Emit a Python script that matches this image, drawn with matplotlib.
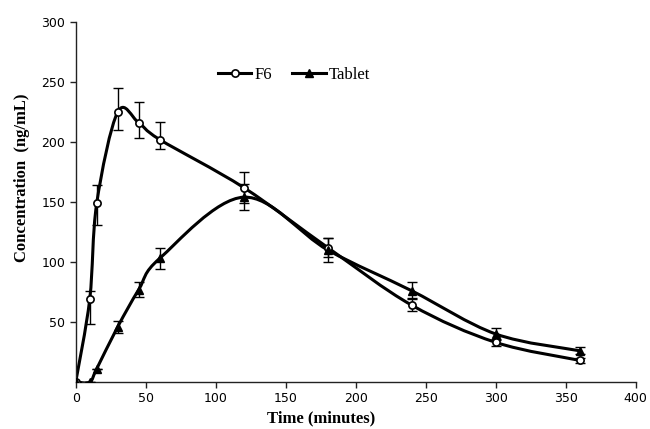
import numpy as np
import matplotlib
matplotlib.use('Agg')
import matplotlib.pyplot as plt
from matplotlib.path import Path
from matplotlib.patches import PathPatch
from matplotlib.lines import Line2D

plt.rcParams.update({
    'font.family': 'DejaVu Sans',
    'xtick.labelsize': 9,
    'ytick.labelsize': 9,
})

time = [0, 10, 15, 30, 45, 60, 120, 180, 240, 300, 360]

f6 = [0, 69, 149, 225, 216, 202, 162, 112, 64, 33, 18]
f6_err_lo = [0, 21, 18, 15, 13, 8, 13, 8, 5, 3, 2]
f6_err_hi = [0, 7, 15, 20, 17, 15, 13, 8, 6, 3, 2]

tablet = [0, 0, 11, 46, 77, 103, 154, 110, 76, 40, 26]
tablet_err = [0, 0, 0, 5, 6, 8.5, 11, 10, 7, 5, 3]


def smooth_path(x, y, k=1.0 / 6):
    # Excel-like smoothed line: Catmull-Rom turned into cubic Bezier segments
    p = np.column_stack([x, y]).astype(float)
    n = len(p)
    verts = [p[0]]
    codes = [Path.MOVETO]
    for i in range(n - 1):
        p_prev = p[i - 1] if i > 0 else p[i]
        p_next = p[i + 2] if i + 2 < n else p[i + 1]
        c1 = p[i] + (p[i + 1] - p_prev) * k
        c2 = p[i + 1] - (p_next - p[i]) * k
        verts += [c1, c2, p[i + 1]]
        codes += [Path.CURVE4] * 3
    return Path(verts, codes)


fig = plt.figure(figsize=(6.5, 4.29), dpi=100)
ax = fig.add_axes([0.1165, 0.1096, 0.8615, 0.8392])

for yv in (f6, tablet):
    ax.add_patch(PathPatch(smooth_path(time, yv), facecolor='none',
                           edgecolor='black', lw=2.2, zorder=2))

ax.errorbar(time, f6, yerr=[f6_err_lo, f6_err_hi], fmt='none', ecolor='black',
            elinewidth=1.0, capsize=3.5, capthick=1.0, zorder=3)
ax.errorbar(time, tablet, yerr=tablet_err, fmt='none', ecolor='black',
            elinewidth=1.0, capsize=3.5, capthick=1.0, zorder=3)

ax.plot(time, f6, ls='none', marker='o', ms=5.2, mfc='white', mec='black',
        mew=1.2, zorder=4)
ax.plot(time, tablet, ls='none', marker='^', ms=6, color='black', zorder=4)

ax.set_xlim(0, 400)
ax.set_ylim(0, 300)
ax.set_xticks(np.arange(0, 401, 50))
ax.set_yticks(np.arange(50, 301, 50))
ax.spines['top'].set_visible(False)
ax.spines['right'].set_visible(False)
for s in ('left', 'bottom'):
    ax.spines[s].set_linewidth(1.0)
    ax.spines[s].set_color('#222222')
ax.tick_params(direction='out', length=4.5, width=1.0, pad=3, colors='#222222')
ax.tick_params(labelcolor='black')

ax.set_xlabel('Time (minutes)', fontfamily='Liberation Serif', fontweight='bold',
              fontsize=12)
ax.xaxis.set_label_coords(0.438, -0.08)
ax.set_ylabel('Concentration  (ng/mL)', fontfamily='Liberation Serif',
              fontweight='bold', fontsize=12)
ax.yaxis.set_label_coords(-0.082, 0.567)

handles = [
    Line2D([], [], color='black', lw=2.2, marker='o', ms=5.2, mfc='white',
           mec='black', mew=1.2),
    Line2D([], [], color='black', lw=2.2, marker='^', ms=6),
]
ax.legend(handles, ['F6', 'Tablet'], loc='center', bbox_to_anchor=(0.39, 0.853),
          ncol=2, frameon=False, handlelength=2.0, handletextpad=0.2,
          columnspacing=1.2, prop={'family': 'Liberation Serif', 'size': 12})

fig.savefig('out.png', dpi=100)
